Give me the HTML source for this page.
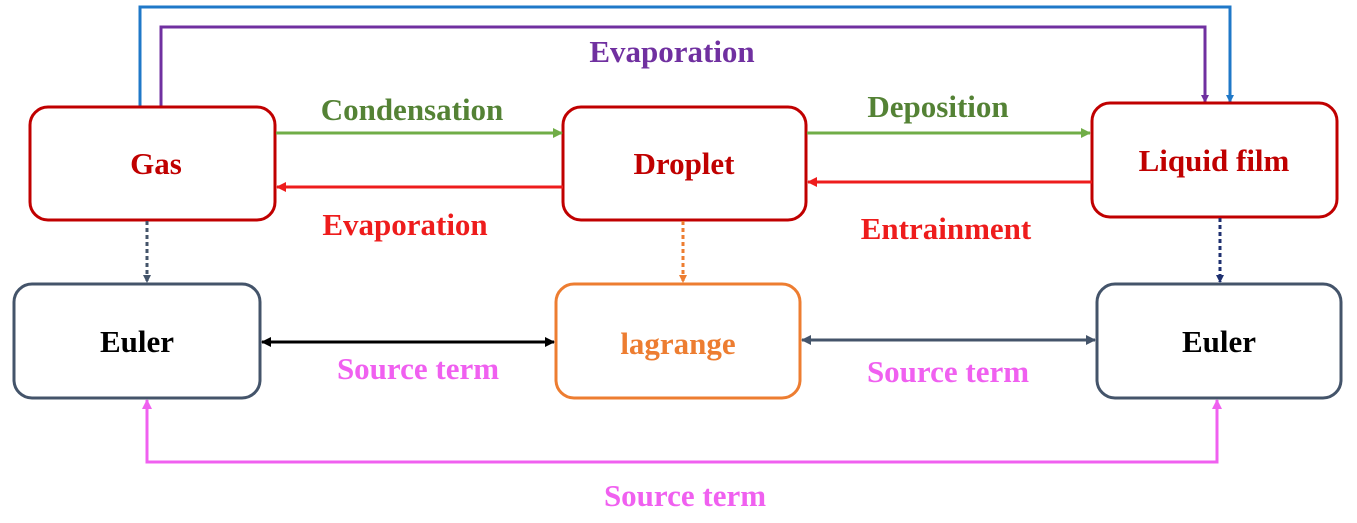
<!DOCTYPE html>
<html><head><meta charset="utf-8"><style>
body{margin:0;background:#fff;}
svg text{font-family:"Liberation Serif",serif;font-weight:bold;font-size:31px;text-anchor:middle;}
</style></head><body>
<svg width="1357" height="518" viewBox="0 0 1357 518" xmlns="http://www.w3.org/2000/svg">
<defs>
<marker id="mb" markerWidth="8" markerHeight="8" refX="7" refY="4" orient="auto" markerUnits="userSpaceOnUse"><path d="M0,0 L8,4 L0,8 z" fill="#1f78c8"/></marker>
<marker id="mp" markerWidth="8" markerHeight="8" refX="7" refY="4" orient="auto" markerUnits="userSpaceOnUse"><path d="M0,0 L8,4 L0,8 z" fill="#7030a0"/></marker>
<marker id="mg" markerWidth="10" markerHeight="10" refX="9" refY="5" orient="auto" markerUnits="userSpaceOnUse"><path d="M0,0 L10,5 L0,10 z" fill="#70ad47"/></marker>
<marker id="mr" markerWidth="10" markerHeight="10" refX="9" refY="5" orient="auto" markerUnits="userSpaceOnUse"><path d="M0,0 L10,5 L0,10 z" fill="#ee1c1c"/></marker>
<marker id="mk" markerWidth="10" markerHeight="10" refX="9" refY="5" orient="auto-start-reverse" markerUnits="userSpaceOnUse"><path d="M0,0 L10,5 L0,10 z" fill="#000"/></marker>
<marker id="ms" markerWidth="10" markerHeight="10" refX="9" refY="5" orient="auto-start-reverse" markerUnits="userSpaceOnUse"><path d="M0,0 L10,5 L0,10 z" fill="#44546a"/></marker>
<marker id="mm" markerWidth="10" markerHeight="10" refX="9" refY="5" orient="auto-start-reverse" markerUnits="userSpaceOnUse"><path d="M0,0 L10,5 L0,10 z" fill="#f060f0"/></marker>
<marker id="mo" markerWidth="8" markerHeight="8" refX="7" refY="4" orient="auto" markerUnits="userSpaceOnUse"><path d="M0,0 L8,4 L0,8 z" fill="#ed7d31"/></marker>
<marker id="mn" markerWidth="8" markerHeight="8" refX="7" refY="4" orient="auto" markerUnits="userSpaceOnUse"><path d="M0,0 L8,4 L0,8 z" fill="#44546a"/></marker>
<marker id="mnv" markerWidth="8" markerHeight="8" refX="7" refY="4" orient="auto" markerUnits="userSpaceOnUse"><path d="M0,0 L8,4 L0,8 z" fill="#1f3070"/></marker>
</defs>
<path d="M140,107 V7 H1230 V102" fill="none" stroke="#1f78c8" stroke-width="3" marker-end="url(#mb)"/>
<path d="M161,107 V27 H1205 V102" fill="none" stroke="#7030a0" stroke-width="3" marker-end="url(#mp)"/>
<g fill="#fff" stroke-width="3">
<rect x="30" y="107" width="245" height="113" rx="18" stroke="#c00000"/>
<rect x="563" y="107" width="243" height="113" rx="18" stroke="#c00000"/>
<rect x="1092" y="103" width="245" height="114" rx="18" stroke="#c00000"/>
<rect x="14" y="284" width="246" height="114" rx="18" stroke="#44546a"/>
<rect x="556" y="284" width="244" height="114" rx="18" stroke="#ed7d31"/>
<rect x="1097" y="284" width="244" height="114" rx="18" stroke="#44546a"/>
</g>
<line x1="276" y1="133" x2="562" y2="133" stroke="#70ad47" stroke-width="3" marker-end="url(#mg)"/>
<line x1="563" y1="187" x2="277" y2="187" stroke="#ee1c1c" stroke-width="3" marker-end="url(#mr)"/>
<line x1="807" y1="133" x2="1090" y2="133" stroke="#70ad47" stroke-width="3" marker-end="url(#mg)"/>
<line x1="1092" y1="182" x2="808" y2="182" stroke="#ee1c1c" stroke-width="3" marker-end="url(#mr)"/>
<line x1="262" y1="342" x2="554" y2="342" stroke="#000" stroke-width="3" marker-start="url(#mk)" marker-end="url(#mk)"/>
<line x1="802" y1="340" x2="1095" y2="340" stroke="#44546a" stroke-width="3" marker-start="url(#ms)" marker-end="url(#ms)"/>
<line x1="147" y1="221" x2="147" y2="282" stroke="#44546a" stroke-width="3" stroke-dasharray="4,3" marker-end="url(#mn)"/>
<line x1="683" y1="221" x2="683" y2="282" stroke="#ed7d31" stroke-width="3" stroke-dasharray="4,3" marker-end="url(#mo)"/>
<line x1="1220" y1="218" x2="1220" y2="282" stroke="#1f3070" stroke-width="3" stroke-dasharray="4,3" marker-end="url(#mnv)"/>
<path d="M147,400 V462 H1217 V400" fill="none" stroke="#f060f0" stroke-width="3" marker-start="url(#mm)" marker-end="url(#mm)"/>
<text x="672" y="62" fill="#7030a0">Evaporation</text>
<text x="412" y="120" fill="#548235">Condensation</text>
<text x="938" y="117" fill="#548235">Deposition</text>
<text x="405" y="235" fill="#ee1c1c">Evaporation</text>
<text x="946" y="239" fill="#ee1c1c">Entrainment</text>
<text x="156" y="174" fill="#c00000">Gas</text>
<text x="684" y="174" fill="#c00000">Droplet</text>
<text x="1214" y="171" fill="#c00000">Liquid film</text>
<text x="137" y="352" fill="#000">Euler</text>
<text x="678" y="354" fill="#ed7d31">lagrange</text>
<text x="1219" y="352" fill="#000">Euler</text>
<text x="418" y="379" fill="#f060f0">Source term</text>
<text x="948" y="382" fill="#f060f0">Source term</text>
<text x="685" y="506" fill="#f060f0">Source term</text>
</svg>
</body></html>
